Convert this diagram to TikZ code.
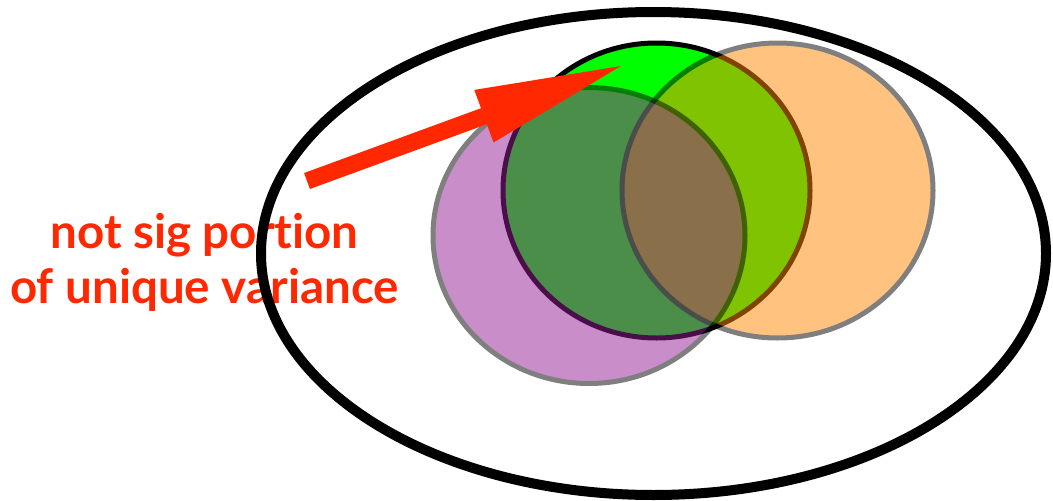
\documentclass[tikz,border=0pt]{standalone}
\usepackage{fontspec}
\setmainfont{Lato}[Ligatures=NoCommon]
\usetikzlibrary{calc}
\definecolor{arrowred}{RGB}{255,40,0}
\definecolor{vgreen}{RGB}{0,255,0}
\definecolor{vorange}{RGB}{255,136,0}
\definecolor{vpurple}{RGB}{148,30,148}
\tikzset{
  frame/.style={draw=black, line width=10pt},
  setcirc/.style={line width=5pt, draw=black},
  lbl/.style={text=arrowred, font=\fontsize{47.5}{55}\selectfont\bfseries, align=center, inner sep=0pt},
}
\begin{document}
\begin{tikzpicture}[x=1pt,y=-1pt]
\path[use as bounding box, fill=white] (0,0) rectangle (1053,501);
% label
\node[lbl, anchor=base] (label) at (204.5,303) {not sig portion\\of unique variance};
% outer ellipse
\draw[frame] (653.5,253.5) ellipse [x radius=392.5, y radius=241.5];
% green set (opaque)
\draw[setcirc, fill=vgreen] (656.5,190.5) ellipse [x radius=153.5, y radius=147.5];
% orange set
\begin{scope}[transparency group, opacity=0.5]
\draw[setcirc, fill=vorange] (777.5,190.5) ellipse [x radius=155.5, y radius=147.5];
\end{scope}
% purple set
\begin{scope}[transparency group, opacity=0.5]
\draw[setcirc, fill=vpurple] (589,235.5) ellipse [x radius=156, y radius=148];
\end{scope}
% arrow
\coordinate (tail) at (307,181);
\coordinate (tip) at (621,66);
\coordinate (B) at ($(tip)!146pt!(tail)$);
\fill[arrowred]
  ($(tail)!8.5pt!90:(tip)$) -- ($(B)!8.5pt!90:(tip)$) -- ($(B)!28pt!90:(tip)$)
  -- (tip) -- ($(B)!28pt!-90:(tip)$) -- ($(B)!8.5pt!-90:(tip)$)
  -- ($(tail)!8.5pt!-90:(tip)$) -- cycle;
\end{tikzpicture}
\end{document}
